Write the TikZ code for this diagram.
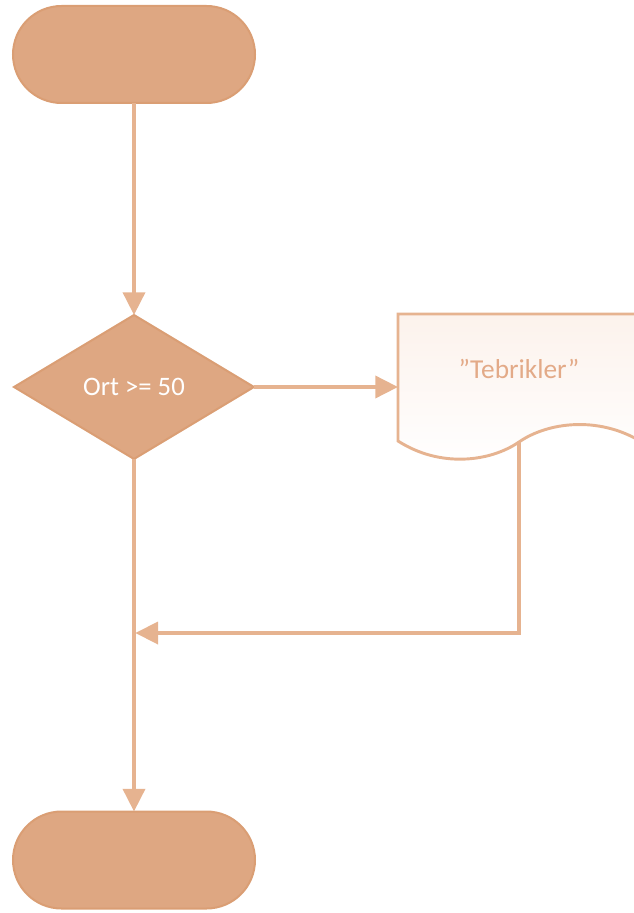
\documentclass[tikz,border=0pt]{standalone}
\usepackage{fontspec}
\setmainfont{Carlito}
\usetikzlibrary{shapes.geometric,shapes.misc,arrows.meta}
\definecolor{shapefill}{HTML}{DEA782}
\definecolor{shapeline}{HTML}{DA9E74}
\definecolor{conn}{HTML}{E6B390}
\definecolor{doctext}{HTML}{E3AA88}
\definecolor{docfillA}{HTML}{FCF2EC}
\definecolor{docfillB}{HTML}{FFFFFF}
\tikzset{
  terminal/.style={rounded rectangle, minimum width=181.5pt, minimum height=72.75pt,
    fill=shapefill, draw=shapeline, line width=1.5pt, inner sep=0pt, outer sep=0pt},
  decision/.style={diamond, aspect=1.6667, minimum width=180pt, minimum height=108pt,
    fill=shapefill, draw=shapeline, line width=1.5pt, inner sep=0pt, outer sep=0pt,
    text=white, font=\fontsize{20}{24}\selectfont},
  conline/.style={draw=conn, line width=2.7pt},
  conarrow/.style={conline, -{Triangle[length=17pt,width=16.5pt]}},
  doclabel/.style={text=doctext, font=\fontsize{20.5}{24}\selectfont, inner sep=0pt}
}
\begin{document}
\begin{tikzpicture}[x=0.75pt,y=-0.75pt]
\useasboundingbox (0,0) rectangle (634,913);
\clip (0,0) rectangle (634,913);
% nodes
\node[terminal] (start) at (134,54.5) {};
\node[decision] (dec) at (134,387) {Ort >= 50};
\node[terminal] (end) at (134,860) {};
% document shape
\path[top color=docfillB, bottom color=docfillB, left color=docfillA, right color=docfillB, shading angle=0]
  (398,441) -- (398,314) -- (640,314) -- (640,441)
  .. controls (598,416) and (548,422) .. (519,442)
  .. controls (490,462) and (440,468) .. (398,441) -- cycle;
\draw[draw=conn, line width=2.2pt]
  (398,441) -- (398,314) -- (640,314) -- (640,441)
  .. controls (598,416) and (548,422) .. (519,442)
  .. controls (490,462) and (440,468) .. (398,441) -- cycle;
\node[doclabel] (doc) at (519,369) {\textquotedblright Tebrikler\textquotedblright};
\coordinate (docleft) at (398,387);
\coordinate (docb) at (519,442);
\coordinate (turn) at (519,633);
\coordinate (merge) at (134,633);
% connectors
\draw[conarrow] (start.south) -- (dec.north);
\draw[conarrow] (dec.east) -- (docleft);
\draw[conarrow] (docb) -- (turn) -- ([xshift=1pt]merge);
\draw[conarrow] (dec.south) -- (end.north);
\end{tikzpicture}
\end{document}
